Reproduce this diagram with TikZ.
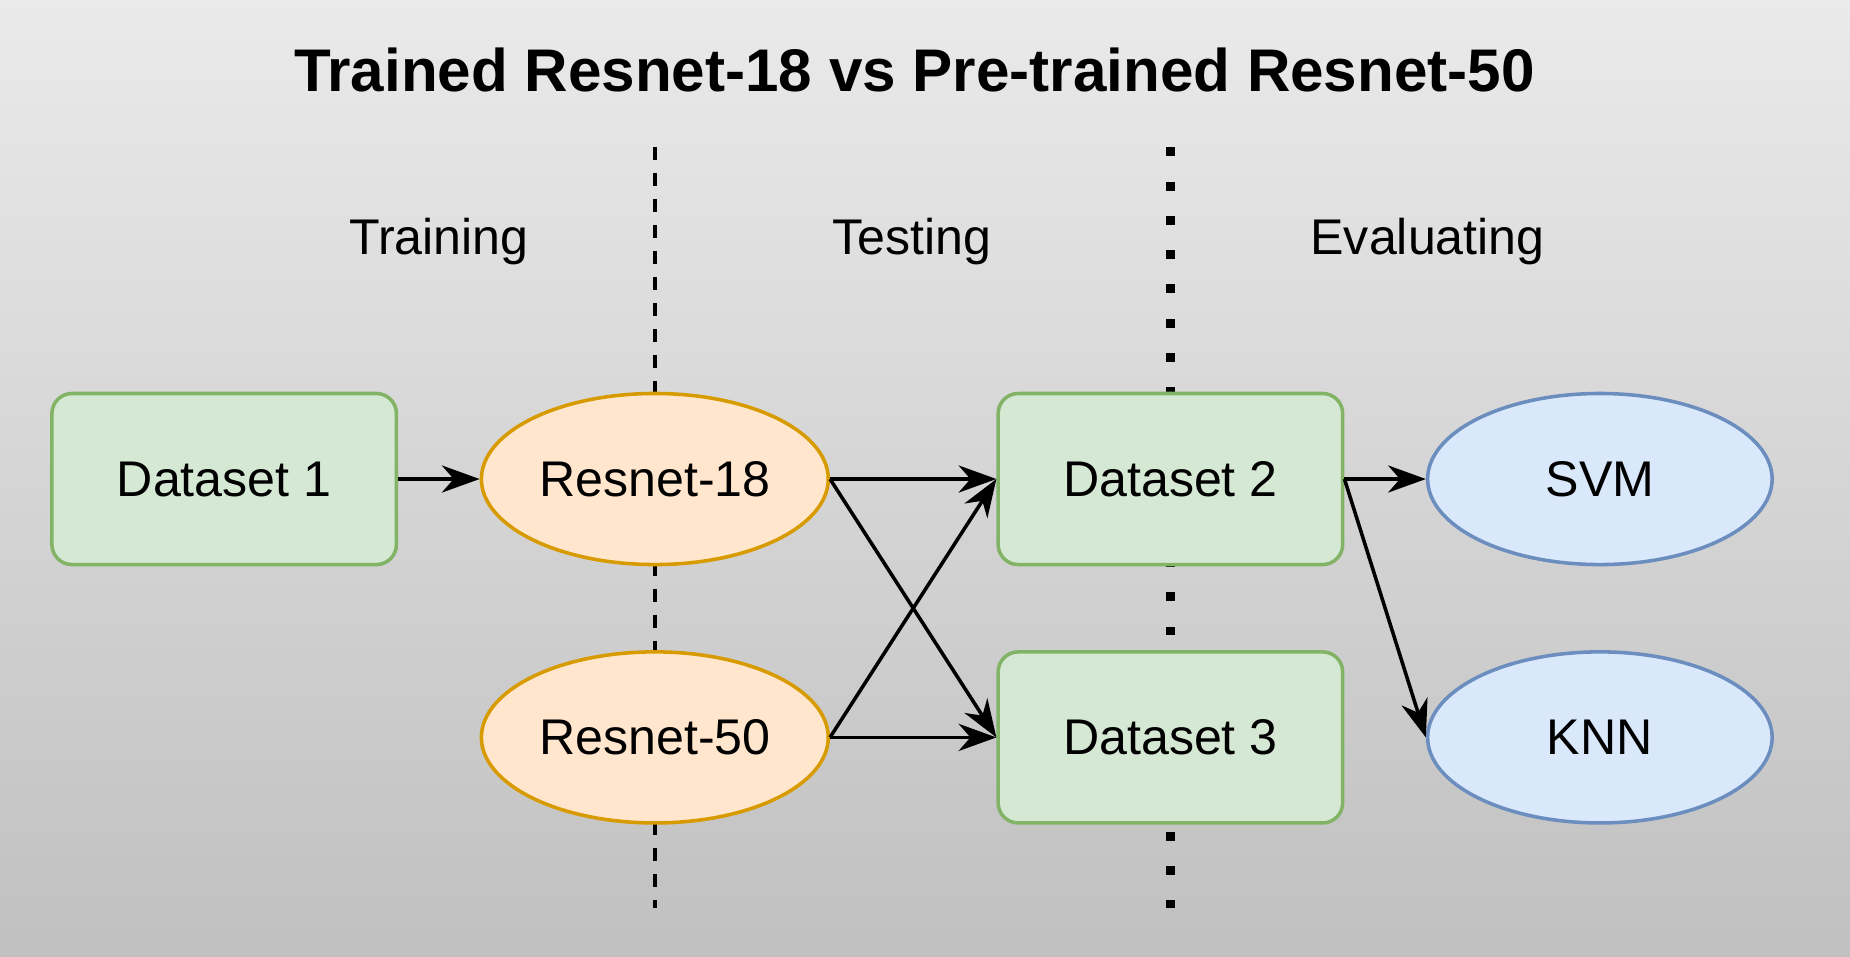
\documentclass[tikz,border=0pt]{standalone}
\usepackage{fontspec}
\setmainfont{Liberation Sans}
\usetikzlibrary{arrows.meta,shapes.geometric}
\definecolor{greenfill}{HTML}{D5E8D4}
\definecolor{greenline}{HTML}{82B366}
\definecolor{orangefill}{HTML}{FFE6CC}
\definecolor{orangeline}{HTML}{D79B00}
\definecolor{bluefill}{HTML}{DAE8FC}
\definecolor{blueline}{HTML}{6C8EBF}
\definecolor{bgtop}{HTML}{EAEAEA}
\definecolor{bgbot}{HTML}{C0C0C0}
\tikzset{
  bodyfont/.style={font=\fontsize{42.5}{48}\selectfont},
  databox/.style={draw=greenline, fill=greenfill, line width=3pt, rounded corners=17pt,
    minimum width=292pt, minimum height=145pt, inner sep=0pt, bodyfont},
  netnode/.style={ellipse, draw=orangeline, fill=orangefill, line width=3pt,
    minimum width=294pt, minimum height=145pt, inner sep=0pt, bodyfont},
  clsnode/.style={ellipse, draw=blueline, fill=bluefill, line width=3pt,
    minimum width=292pt, minimum height=145pt, inner sep=0pt, bodyfont},
  phase/.style={bodyfont, inner sep=0pt},
  flow/.style={line width=3pt, -{Stealth[length=32pt,width=23pt,inset=10pt]}},
  dashsep/.style={line width=3.4pt, dash pattern=on 11pt off 11pt},
  dotsep/.style={line width=7.6pt, dash pattern=on 7.6pt off 21.4pt}
}
\begin{document}
\begin{tikzpicture}[x=1pt,y=-1pt]
\shade[top color=bgtop, bottom color=bgbot] (0,0) rectangle (1568,811);
\useasboundingbox (0,0) rectangle (1568,811);
\node[font=\bfseries\fontsize{51}{60}\selectfont, inner sep=0pt] (title) at (775,59) {Trained Resnet-18 vs Pre-trained Resnet-50};
\node[phase] (training) at (372,205) {Training};
\node[phase] (testing) at (773,205) {Testing};
\node[phase] (evaluating) at (1210,205) {Evaluating};
\coordinate (dashtop) at (555,125);
\coordinate (dashbot) at (555,770);
\coordinate (dottop) at (992,125);
\coordinate (dotbot) at (992,770);
\draw[dashsep] (dashtop) -- (dashbot);
\draw[dotsep] (dottop) -- (dotbot);
\node[databox] (d1) at (190,406) {Dataset 1};
\node[netnode] (r18) at (555,406) {Resnet-18};
\node[netnode] (r50) at (555,625) {Resnet-50};
\node[databox] (d2) at (992,406) {Dataset 2};
\node[databox] (d3) at (992,625) {Dataset 3};
\node[clsnode] (svm) at (1356,406) {SVM};
\node[clsnode] (knn) at (1356,625) {KNN};
\draw[flow] (d1.east) -- (r18.west);
\draw[flow] (r18.east) -- (d2.west);
\draw[flow] (r18.east) -- (d3.west);
\draw[flow] (r50.east) -- (d2.west);
\draw[flow] (r50.east) -- (d3.west);
\draw[flow] (d2.east) -- (svm.west);
\draw[flow] (d2.east) -- (knn.west);
\end{tikzpicture}
\end{document}
